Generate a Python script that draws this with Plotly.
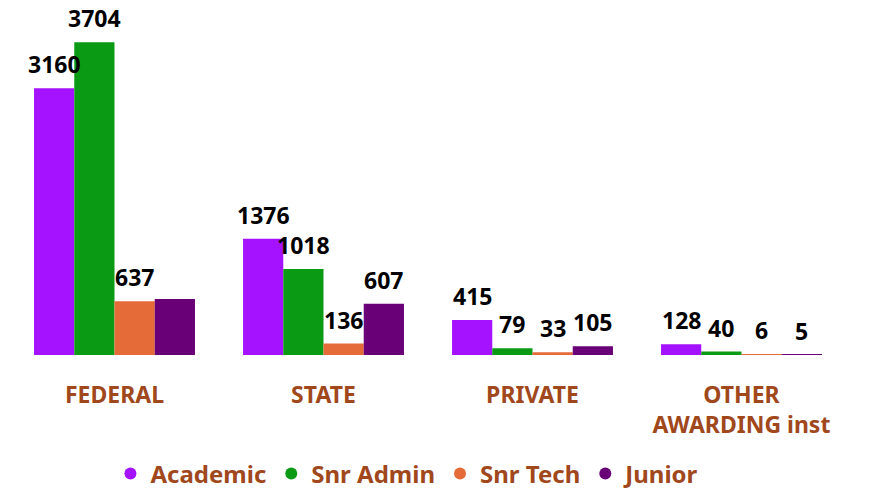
import plotly.graph_objects as go

categories = ["FEDERAL", "STATE", "PRIVATE", "OTHER<br>AWARDING inst"]
series_names = ["Academic", "Snr Admin", "Snr Tech", "Junior"]
academic = [3160, 1376, 415, 128]
snr_admin = [3704, 1018, 79, 40]
snr_tech = [637, 136, 33, 6]
junior = [663, 607, 105, 5]
# label shown for each bar (FEDERAL Junior label hidden in the reference)
show_label = [
    [True, True, True, True],
    [True, True, True, True],
    [True, True, True, True],
    [False, True, True, True],
]

colors = ["#A412FF", "#0A9A14", "#E56B39", "#690077"]
brown = "#A0481C"
font_family = "Noto Sans, Open Sans, sans-serif"

values = [academic, snr_admin, snr_tech, junior]

fig = go.Figure()
for name, vals, col in zip(series_names, values, colors):
    fig.add_trace(go.Bar(name=name, x=categories, y=vals, marker_color=col,
                         marker_line_width=0, showlegend=False))
# legend entries with circle symbols
for name, col in zip(series_names, colors):
    fig.add_trace(go.Scatter(name=name, x=[None], y=[None], mode="markers",
                             marker=dict(color=col, size=20, symbol="circle")))

# page body has an 8px margin, so the figure is 8px smaller than the window
W, H = 864, 484
ml, mr, mt, mb = 2, 26, 12, 137
plot_w = W - ml - mr
cat_w = plot_w / len(categories)
bargap = 0.23
bar_w = cat_w * (1 - bargap) / 4
offsets = [(-1.5 + i) * bar_w for i in range(4)]

annotations = []
for si, vals in enumerate(values):
    for ci, v in enumerate(vals):
        if not show_label[si][ci]:
            continue
        annotations.append(dict(x=categories[ci], y=v, xref="x", yref="y",
                                text=f"<b>{v}</b>", showarrow=False,
                                yanchor="bottom", xanchor="center",
                                xshift=offsets[si], yshift=7, borderpad=0,
                                font=dict(size=23, color="black", family=font_family)))

fig.update_layout(
    width=W, height=H,
    margin=dict(l=ml, r=mr, t=mt, b=mb, autoexpand=False),
    plot_bgcolor="white", paper_bgcolor="white",
    barmode="group", bargap=bargap, bargroupgap=0,
    annotations=annotations,
    legend=dict(orientation="h", x=0.476, xanchor="center", y=-0.355, yanchor="middle",
                font=dict(size=24, color=brown, family=font_family, weight="bold"),
                itemsizing="constant", tracegroupgap=0),
    xaxis=dict(showline=False, showgrid=False, ticks="outside", ticklen=19,
               tickcolor="rgba(0,0,0,0)", automargin=False,
               tickfont=dict(size=23, color=brown, family=font_family, weight="bold")),
    yaxis=dict(range=[0, 3968], visible=False, showgrid=False, zeroline=False,
               automargin=False),
)

fig.write_html("out.html")
